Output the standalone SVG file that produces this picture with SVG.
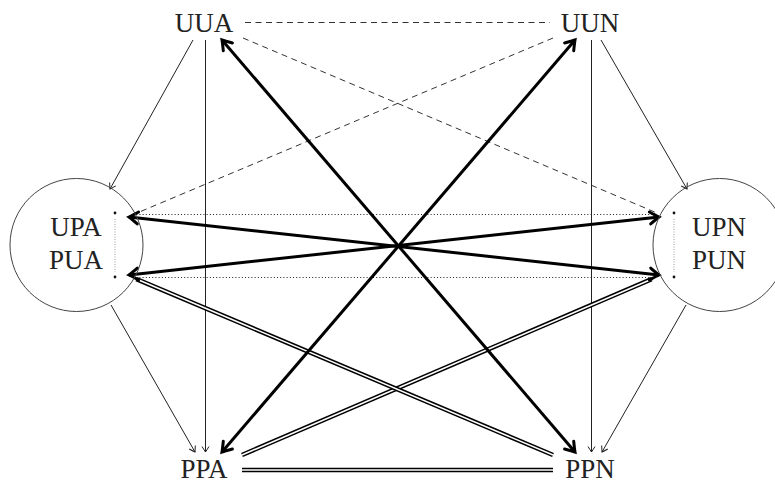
<svg xmlns="http://www.w3.org/2000/svg" width="775" height="484" viewBox="0 0 775 484">
<style>
.lbl{font-family:'Liberation Serif','DejaVu Serif',serif;font-size:27px;fill:#222;text-anchor:middle}
.circ{fill:none;stroke:#444;stroke-width:1}
.thin{fill:none;stroke:#222;stroke-width:1;marker-end:url(#ah)}
.thick{fill:none;stroke:#000;stroke-width:3;marker-start:url(#ahb);marker-end:url(#ahb)}
.dbo{fill:none;stroke:#000;stroke-width:4.6}
.dbi{fill:none;stroke:#fff;stroke-width:1.6}
.dash{fill:none;stroke:#333;stroke-width:1;stroke-dasharray:6 4.5}
.dot{fill:none;stroke:#222;stroke-width:1.2;stroke-dasharray:1 2.2}
.vdot{fill:none;stroke:#999;stroke-width:1;stroke-dasharray:1 1.5}
</style>
<defs>
<marker id="ah" markerUnits="userSpaceOnUse" viewBox="-8 -6 10 12" refX="0" refY="0" markerWidth="10" markerHeight="12" orient="auto" overflow="visible">
<path d="M -5.5 -3.5 Q -1.5 -1 0 0 Q -1.5 1 -5.5 3.5" fill="none" stroke="#222" stroke-width="1"/>
</marker>
<marker id="ahb" markerUnits="userSpaceOnUse" viewBox="-12 -8 14 16" refX="0" refY="0" markerWidth="14" markerHeight="16" orient="auto-start-reverse" overflow="visible">
<path d="M -9 -6 Q -2.5 -1.5 0 0 Q -2.5 1.5 -9 6" fill="none" stroke="#000" stroke-width="3" stroke-linecap="round"/>
</marker>
</defs>

<g id="connectors">
<path class="dot" d="M 133 214.5 L 655 214.5"/>
<path class="dot" d="M 133 277.5 L 655 277.5"/>
<path class="dash" d="M 245 22.5 L 550 22.5"/>
<path class="dash" d="M 243 38 L 657 213"/>
<path class="dash" d="M 553 38 L 137 213"/>
<path class="thin" d="M 193 40 L 110 189"/>
<path class="thin" d="M 205.5 40 L 205.5 452"/>
<path class="thin" d="M 591.5 40 L 591.5 452"/>
<path class="thin" d="M 601 40 L 687 189"/>
<path class="thin" d="M 111 305 L 195 452"/>
<path class="thin" d="M 686 305 L 602 452"/>
<path class="dbo" d="M 242 455 L 651.6 279.2"/>
<path class="dbi" d="M 242 455 L 651.6 279.2"/>
<path class="dbo" d="M 553 455 L 136.4 279.1"/>
<path class="dbi" d="M 553 455 L 136.4 279.1"/>
<path class="dbo" d="M 242 470 L 553 470"/>
<path class="dbi" d="M 242 470 L 553 470"/>
<path class="thick" d="M 222 40 L 575 452"/>
<path class="thick" d="M 575 40 L 222 452"/>
<path class="thick" d="M 129 217 L 659 275"/>
<path class="thick" d="M 129 275 L 659 217"/>
</g>

<g id="UUA"><text class="lbl" x="204" y="32">UUA</text></g>
<g id="UUN"><text class="lbl" x="590" y="32">UUN</text></g>
<g id="PPA"><text class="lbl" x="204" y="478">PPA</text></g>
<g id="PPN"><text class="lbl" x="590" y="478">PPN</text></g>

<g id="UPA_PUA">
<circle class="circ" cx="76.5" cy="245" r="66.5"/>
<text class="lbl" x="76" y="236">UPA</text>
<text class="lbl" x="76" y="269">PUA</text>
<path class="vdot" d="M 115 219 L 115 272"/>
<circle cx="115" cy="213" r="1.4" fill="#111"/>
<circle cx="115" cy="277" r="1.4" fill="#111"/>
</g>

<g id="UPN_PUN">
<circle class="circ" cx="719.5" cy="245" r="66.5"/>
<text class="lbl" x="719" y="236">UPN</text>
<text class="lbl" x="719" y="269">PUN</text>
<path class="vdot" d="M 674 219 L 674 272"/>
<circle cx="674" cy="213" r="1.4" fill="#111"/>
<circle cx="674" cy="277" r="1.4" fill="#111"/>
</g>
</svg>
